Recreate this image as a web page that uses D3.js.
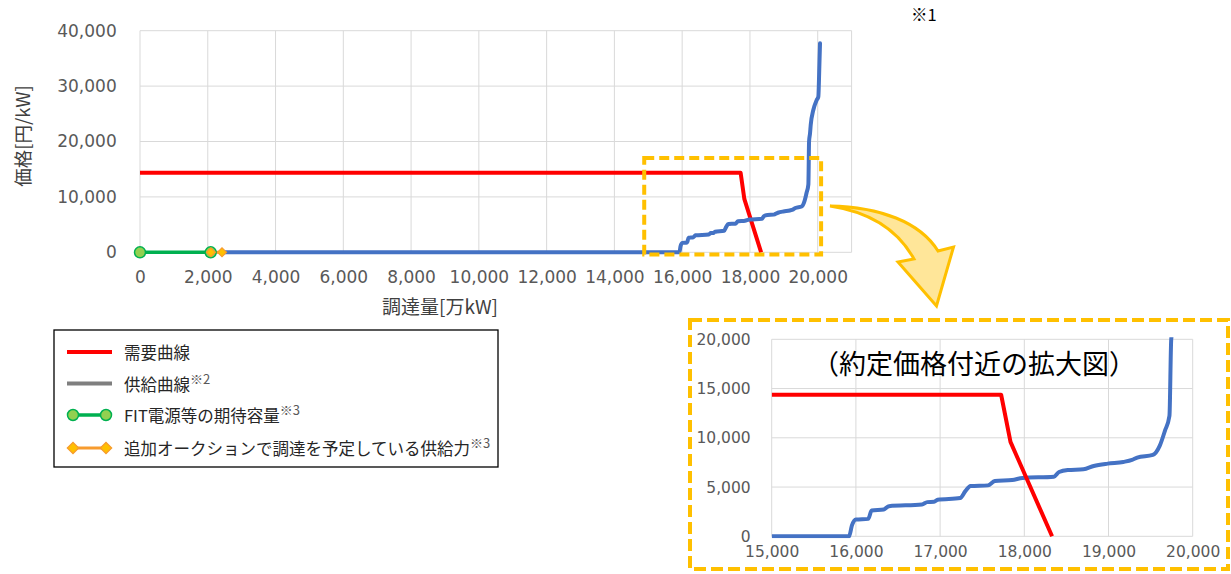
<!DOCTYPE html>
<html>
<head>
<meta charset="utf-8">
<script src="https://cdn.jsdelivr.net/npm/d3@7"></script>
<style>
  body { margin: 0; background: #fff; }
  svg { display: block; }
</style>
</head>
<body>
<svg id="chart" width="1231" height="574"></svg>
<script>
// ---- data ----
const demandX = [0, 17725, 17836, 18330];
const demandY = [14370, 14370, 9590, 0];

const supplyX = [2420, 15919, 15952, 16002, 16146, 16187, 16331, 16393, 16785, 16847, 16929, 16970, 17238, 17300, 17362, 17568, 17650, 17856, 17980, 18351, 18413, 18516, 18702, 18825, 18990, 19176, 19279, 19341, 19526, 19608, 19670, 19724, 19745, 19773, 19793, 19870, 19970, 20018, 20048, 20068];
const supplyY = [0, 0, 1088, 1700, 1770, 2620, 2720, 3060, 3230, 3470, 3500, 3710, 3880, 4590, 5100, 5170, 5610, 5710, 5920, 6050, 6530, 6730, 6800, 7140, 7380, 7550, 7750, 7990, 8260, 9180, 10710, 12240, 20000, 21460, 22960, 25680, 27490, 28090, 33500, 37740];

const fitX = [0, 2086];
const fitY = [0, 0];
const addX = [2094, 2420];
const addY = [0, 0];

const xTicksMain = [0, 2000, 4000, 6000, 8000, 10000, 12000, 14000, 16000, 18000, 20000];
const yTicksMain = [0, 10000, 20000, 30000, 40000];
const xTicksInset = [15000, 16000, 17000, 18000, 19000, 20000];
const yTicksInset = [0, 5000, 10000, 15000, 20000];

const zoomBoxX = [14880, 20100];
const zoomBoxY = [-400, 17000];

const legendLabels = ["需要曲線", "供給曲線", "FIT電源等の期待容量", "追加オークションで調達を予定している供給力"];
const legendNotes = ["", "※2", "※3", "※3"];

const xTitle = "調達量[万kW]";
const yTitle = "価格[円/kW]";
const insetTitle = "（約定価格付近の拡大図）";
const noteText = "※1";

// ---- styles ----
const C = {
  red: "#FF0000", blue: "#4472C4", green: "#00B050", greenFill: "#92D050",
  orange: "#F79B2E", diamond: "#FFC000", gray: "#7F7F7F", grid: "#D9D9D9",
  tick: "#595959", yellow: "#FFC000", arrowFill: "#FFE699"
};
const NUM_FONT = "'DejaVu Sans', 'Noto Sans CJK JP', sans-serif";
const JP_FONT = "'Noto Sans CJK JP', 'Noto Sans', sans-serif";

const svg = d3.select("#chart");
const fmt = d3.format(",");

const zip = (xs, ys) => xs.map((x, i) => [x, ys[i]]);

// ---- main chart ----
const xMain = d3.scaleLinear([0, 21000], [140, 851.6]);
const yMain = d3.scaleLinear([0, 40000], [252.3, 30.7]);

const gMain = svg.append("g");
gMain.selectAll(".hg").data(yTicksMain).join("line")
  .attr("x1", xMain(0)).attr("x2", xMain(21000))
  .attr("y1", d => yMain(d)).attr("y2", d => yMain(d))
  .attr("stroke", C.grid).attr("stroke-width", 1);
gMain.selectAll(".vg").data([...xTicksMain, 21000]).join("line")
  .attr("x1", d => xMain(d)).attr("x2", d => xMain(d))
  .attr("y1", yMain(0)).attr("y2", yMain(40000))
  .attr("stroke", C.grid).attr("stroke-width", 1);

const axX = gMain.append("g").attr("transform", `translate(0,${yMain(0)})`)
  .call(d3.axisBottom(xMain).tickValues(xTicksMain).tickFormat(fmt).tickSize(0).tickPadding(18.6));
const axY = gMain.append("g").attr("transform", `translate(${xMain(0)},0)`)
  .call(d3.axisLeft(yMain).tickValues(yTicksMain).tickFormat(fmt).tickSize(0).tickPadding(23.3));
[axX, axY].forEach(a => {
  a.select(".domain").remove();
  a.selectAll("text").attr("font-family", NUM_FONT).attr("font-size", 17).attr("fill", C.tick);
});

gMain.append("text").text(xTitle)
  .attr("x", 440).attr("y", 305).attr("text-anchor", "middle").attr("dominant-baseline", "central")
  .attr("font-family", JP_FONT).attr("font-size", 19).attr("fill", "#404040");
gMain.append("text").text(yTitle)
  .attr("transform", "translate(22,136) rotate(-90)")
  .attr("text-anchor", "middle").attr("dominant-baseline", "central")
  .attr("font-family", JP_FONT).attr("font-size", 18.5).attr("fill", "#404040");

const lineMain = d3.line().x(d => xMain(d[0])).y(d => yMain(d[1]));
const lineMainSmooth = d3.line().x(d => xMain(d[0])).y(d => yMain(d[1])).curve(d3.curveMonotoneX);

gMain.append("path").attr("d", lineMain(zip(demandX, demandY)))
  .attr("fill", "none").attr("stroke", C.red).attr("stroke-width", 4).attr("stroke-linejoin", "round");
gMain.append("path").attr("d", lineMainSmooth(zip(supplyX, supplyY)))
  .attr("fill", "none").attr("stroke", C.blue).attr("stroke-width", 4).attr("stroke-linejoin", "round").attr("stroke-linecap", "round");

gMain.append("path").attr("d", lineMain(zip(fitX, fitY)))
  .attr("fill", "none").attr("stroke", C.green).attr("stroke-width", 3.5);
gMain.append("path").attr("d", lineMain(zip(addX, addY)))
  .attr("fill", "none").attr("stroke", C.orange).attr("stroke-width", 3);
gMain.selectAll(".fitpt").data(zip(fitX, fitY)).join("circle")
  .attr("cx", d => xMain(d[0])).attr("cy", d => yMain(d[1])).attr("r", 5.5)
  .attr("fill", C.greenFill).attr("stroke", C.green).attr("stroke-width", 1.5);
gMain.selectAll(".addpt").data(zip(addX, addY)).join("path")
  .attr("d", d3.symbol().type(d3.symbolSquare).size(40))
  .attr("transform", d => `translate(${xMain(d[0])},${yMain(d[1])}) rotate(45)`)
  .attr("fill", C.diamond).attr("stroke", C.orange).attr("stroke-width", 1.2);

gMain.append("rect")
  .attr("x", xMain(zoomBoxX[0])).attr("y", yMain(zoomBoxY[1]))
  .attr("width", xMain(zoomBoxX[1]) - xMain(zoomBoxX[0]))
  .attr("height", yMain(zoomBoxY[0]) - yMain(zoomBoxY[1]))
  .attr("fill", "none").attr("stroke", C.yellow).attr("stroke-width", 4).attr("stroke-dasharray", "10,5");

svg.append("text").text(noteText).attr("x", 911).attr("y", 21)
  .attr("font-family", JP_FONT).attr("font-size", 16.5).attr("fill", "#000");

// ---- arrow ----
const ap = d3.path();
ap.moveTo(830, 206);
ap.bezierCurveTo(880, 207, 920, 222, 938, 251);
ap.lineTo(953.5, 247);
ap.lineTo(936.5, 306);
ap.lineTo(898, 262);
ap.lineTo(914, 259);
ap.bezierCurveTo(898, 230, 870, 212, 830, 206);
ap.closePath();
svg.append("path").attr("d", ap.toString())
  .attr("fill", C.arrowFill).attr("stroke", C.yellow).attr("stroke-width", 3).attr("stroke-linejoin", "miter");

// ---- legend ----
const gLeg = svg.append("g");
gLeg.append("rect").attr("x", 54).attr("y", 330).attr("width", 444).attr("height", 137)
  .attr("fill", "#fff").attr("stroke", "#000").attr("stroke-width", 1.3);
const rowY = [352, 383.5, 415, 448];
const lx0 = 67, lx1 = 112;
gLeg.append("line").attr("x1", lx0).attr("x2", lx1).attr("y1", rowY[0]).attr("y2", rowY[0])
  .attr("stroke", C.red).attr("stroke-width", 4);
gLeg.append("line").attr("x1", lx0).attr("x2", lx1).attr("y1", rowY[1]).attr("y2", rowY[1])
  .attr("stroke", C.gray).attr("stroke-width", 4);
gLeg.append("line").attr("x1", lx0 + 6).attr("x2", lx1 - 6).attr("y1", rowY[2]).attr("y2", rowY[2])
  .attr("stroke", C.green).attr("stroke-width", 3.5);
gLeg.selectAll(".lc").data([lx0 + 6, lx1 - 6]).join("circle")
  .attr("cx", d => d).attr("cy", rowY[2]).attr("r", 5.5)
  .attr("fill", C.greenFill).attr("stroke", C.green).attr("stroke-width", 1.5);
gLeg.append("line").attr("x1", lx0 + 6).attr("x2", lx1 - 6).attr("y1", rowY[3]).attr("y2", rowY[3])
  .attr("stroke", C.orange).attr("stroke-width", 3);
gLeg.selectAll(".ld").data([lx0 + 6, lx1 - 6]).join("path")
  .attr("d", d3.symbol().type(d3.symbolSquare).size(64))
  .attr("transform", d => `translate(${d},${rowY[3]}) rotate(45)`)
  .attr("fill", C.diamond).attr("stroke", C.orange).attr("stroke-width", 1.3);
legendLabels.forEach((lab, i) => {
  const t = gLeg.append("text").attr("x", 124).attr("y", rowY[i]).attr("dominant-baseline", "central")
    .attr("font-family", JP_FONT).attr("font-size", 16.5).attr("fill", "#262626");
  t.append("tspan").text(lab);
  if (legendNotes[i]) {
    t.append("tspan").text(legendNotes[i]).attr("font-size", 13).attr("dy", -6).attr("fill", "#595959");
  }
});

// ---- inset ----
const gIn = svg.append("g");
gIn.append("rect").attr("x", 690).attr("y", 320).attr("width", 538).attr("height", 249)
  .attr("fill", "#fff").attr("stroke", C.yellow).attr("stroke-width", 4).attr("stroke-dasharray", "12,5");

const xIn = d3.scaleLinear([15000, 20000], [771.7, 1192.7]);
const yIn = d3.scaleLinear([0, 20000], [536.3, 339.3]);

gIn.selectAll(".ihg").data(yTicksInset).join("line")
  .attr("x1", xIn(15000)).attr("x2", xIn(20000))
  .attr("y1", d => yIn(d)).attr("y2", d => yIn(d))
  .attr("stroke", C.grid).attr("stroke-width", 1);
gIn.selectAll(".ivg").data(xTicksInset).join("line")
  .attr("x1", d => xIn(d)).attr("x2", d => xIn(d))
  .attr("y1", yIn(0)).attr("y2", yIn(20000))
  .attr("stroke", C.grid).attr("stroke-width", 1);

const axXi = gIn.append("g").attr("transform", `translate(0,${yIn(0)})`)
  .call(d3.axisBottom(xIn).tickValues(xTicksInset).tickFormat(fmt).tickSize(0).tickPadding(9.5));
const axYi = gIn.append("g").attr("transform", `translate(${xIn(15000)},0)`)
  .call(d3.axisLeft(yIn).tickValues(yTicksInset).tickFormat(fmt).tickSize(0).tickPadding(21));
[axXi, axYi].forEach(a => {
  a.select(".domain").remove();
  a.selectAll("text").attr("font-family", NUM_FONT).attr("font-size", 15.5).attr("fill", C.tick);
});

svg.append("clipPath").attr("id", "insetClip").append("rect")
  .attr("x", xIn(15000)).attr("y", yIn(20000) - 2)
  .attr("width", xIn(20000) - xIn(15000)).attr("height", yIn(0) - yIn(20000) + 4);

const gInPlot = gIn.append("g").attr("clip-path", "url(#insetClip)");
const lineIn = d3.line().x(d => xIn(d[0])).y(d => yIn(d[1]));
const lineInSmooth = d3.line().x(d => xIn(d[0])).y(d => yIn(d[1])).curve(d3.curveMonotoneX);
const supplyInset = zip(supplyX, supplyY);
supplyInset[0] = [15000, 0];
gInPlot.append("path").attr("d", lineInSmooth(supplyInset))
  .attr("fill", "none").attr("stroke", C.blue).attr("stroke-width", 4).attr("stroke-linejoin", "round");
const demandInset = zip(demandX, demandY);
demandInset[0] = [15000, demandY[0]];
gInPlot.append("path").attr("d", lineIn(demandInset))
  .attr("fill", "none").attr("stroke", C.red).attr("stroke-width", 4).attr("stroke-linejoin", "round");

gIn.append("text").text(insetTitle)
  .attr("x", 974).attr("y", 362).attr("text-anchor", "middle").attr("dominant-baseline", "central")
  .attr("font-family", JP_FONT).attr("font-size", 27).attr("fill", "#000");
</script>
</body>
</html>
